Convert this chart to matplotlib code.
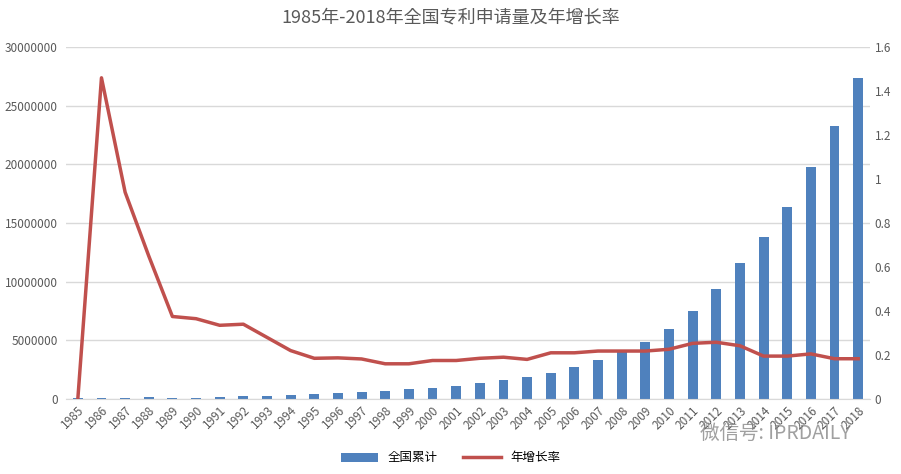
import matplotlib
matplotlib.use("Agg")
import matplotlib.pyplot as plt
from matplotlib import font_manager
import numpy as np

cjk = [f.name for f in font_manager.fontManager.ttflist if 'CJK' in f.name]
pref = 'Noto Sans CJK SC' if 'Noto Sans CJK SC' in cjk else (cjk[0] if cjk else 'DejaVu Sans')
plt.rcParams['font.family'] = 'sans-serif'
plt.rcParams['font.sans-serif'] = [pref, 'DejaVu Sans']

years = [str(y) for y in range(1985, 2019)]
cumulative = [100000, 100000, 100000, 150000, 100000, 120000, 180000, 250000, 270000, 350000,
              450000, 500000, 600000, 700000, 850000, 950000, 1100000, 1350000, 1600000, 1900000,
              2200000, 2700000, 3300000, 4000000, 4860000, 6000000, 7500000, 9400000, 11600000,
              13800000, 16400000, 19800000, 23300000, 27400000]
growth = [0.0, 1.46, 0.94, 0.65, 0.375, 0.365, 0.335, 0.34, 0.28, 0.22,
          0.185, 0.187, 0.182, 0.16, 0.16, 0.175, 0.175, 0.185, 0.19, 0.18,
          0.21, 0.21, 0.218, 0.218, 0.218, 0.226, 0.253, 0.258, 0.242, 0.195,
          0.195, 0.205, 0.183, 0.183]

fig = plt.figure(figsize=(9.01, 4.74), dpi=100)
ax = fig.add_axes([66/901, 75/474, 804/901, 352/474])
x = np.arange(len(years))
b = ax.bar(x, cumulative, width=0.42, color='#4f81bd', label='全国累计', zorder=2)
ax.set_ylim(0, 30000000)
ax.set_xlim(-0.5, len(years)-0.5)
ax.set_yticks(np.arange(0, 30000001, 5000000))
ax.set_yticklabels([str(v) for v in range(0, 30000001, 5000000)])
ax.yaxis.grid(True, color='#d9d9d9', lw=1, zorder=0)
ax.set_axisbelow(True)
for s in ax.spines.values():
    s.set_visible(False)
ax.spines['bottom'].set_visible(True)
ax.spines['bottom'].set_color('#d9d9d9')
ax.set_xticks(x)
ax.set_xticklabels(years, rotation=45, ha='right', rotation_mode='anchor')
ax.tick_params(axis='y', length=0, labelsize=8.5, colors='#595959', pad=6)
ax.tick_params(axis='x', length=0, labelsize=8.5, colors='#595959')

ax2 = ax.twinx()
l, = ax2.plot(x, growth, color='#c0504d', lw=2.5, label='年增长率', zorder=3)
ax2.set_ylim(0, 1.6)
ax2.set_yticks([0, 0.2, 0.4, 0.6, 0.8, 1.0, 1.2, 1.4, 1.6])
ax2.set_yticklabels(['0', '0.2', '0.4', '0.6', '0.8', '1', '1.2', '1.4', '1.6'])
for s in ax2.spines.values():
    s.set_visible(False)
ax2.tick_params(length=0, labelsize=8.5, colors='#595959')

fig.text(0.5, 1-17/474, '1985年-2018年全国专利申请量及年增长率', ha='center', va='center',
         fontsize=13, color='#595959')
fig.legend(handles=[b, l], loc='center', bbox_to_anchor=(0.5, 1-458/474), ncol=2,
           frameon=False, fontsize=9, handlelength=3)
fig.text(775/901, 1-433/474, '微信号: IPRDAILY', ha='center', va='center', fontsize=14,
         color='#888888', alpha=0.8)
fig.savefig('out.png', dpi=100)
